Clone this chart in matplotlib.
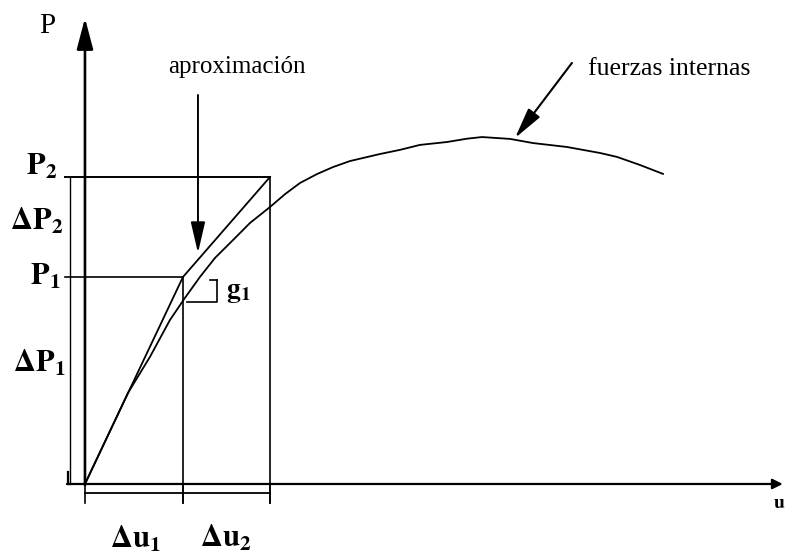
import matplotlib
matplotlib.use("Agg")
import matplotlib.pyplot as plt

plt.rcParams['mathtext.fontset'] = 'stix'
plt.rcParams['font.family'] = ['Liberation Serif', 'DejaVu Serif']

# ---- data (arbitrary units: u displacement, P load) ----
u_curve = [0, 0.439, 0.663, 0.867, 1.020, 1.173, 1.327, 1.531, 1.684, 1.888, 2.041,
           2.194, 2.367, 2.531, 2.704, 3.010, 3.214, 3.418, 3.694, 3.898, 4.051,
           4.337, 4.571, 4.918, 5.255, 5.429, 5.663, 5.898]
P_curve = [0, 0.440, 0.614, 0.792, 0.899, 1.000, 1.092, 1.188, 1.261, 1.338, 1.400,
           1.454, 1.497, 1.531, 1.560, 1.594, 1.614, 1.638, 1.652, 1.668, 1.676,
           1.667, 1.647, 1.628, 1.599, 1.580, 1.541, 1.498]
u_approx = [0, 1.0, 1.888]
P_approx = [0, 1.0, 1.483]
u1, u2 = 1.0, 1.888
P1, P2 = 1.0, 1.483
g1_top, g1_bot = 0.985, 0.880

fig = plt.figure(figsize=(7.85, 5.57), dpi=100)
ax = fig.add_axes([0, 0, 1, 1])
ax.set_xlim(-0.867, 7.143)
ax.set_ylim(-0.3527, 2.338)
ax.axis('off')

k = 'black'
# axes with arrows
ax.annotate('', xy=(0, 2.251), xytext=(0, -0.005),
            arrowprops=dict(arrowstyle='-|>,head_length=0.95,head_width=0.25',
                            mutation_scale=20, lw=1.9, color=k, shrinkA=0, shrinkB=0))
ax.annotate('', xy=(7.12, 0), xytext=(-0.184, 0),
            arrowprops=dict(arrowstyle='-|>,head_length=0.6,head_width=0.3',
                            mutation_scale=10, lw=1.6, color=k, shrinkA=0, shrinkB=0))

# grid lines of the scheme
ax.plot([-0.204, u2], [P2, P2], color=k, lw=1.4)
ax.plot([-0.204, u1], [P1, P1], color=k, lw=1.2)
ax.plot([u2, u2], [P2, -0.092], color=k, lw=1.2)
ax.plot([u1, u1], [P1, -0.092], color=k, lw=1.2)

# dimension lines
ax.plot([-0.153, -0.153], [0, P2], color=k, lw=1.0)
ax.plot([-0.175, -0.175], [0, 0.06], color=k, lw=1.6)
ax.plot([0, u2], [-0.0435, -0.0435], color=k, lw=1.3)
for uu in [0, u1, u2]:
    ax.plot([uu, uu], [0, -0.092], color=k, lw=1.2)

# curves
ax.plot(u_curve, P_curve, color=k, lw=1.3, solid_joinstyle='round')
ax.plot(u_approx, P_approx, color=k, lw=1.3)

# g1 bracket
ax.plot([1.041, 1.347, 1.347], [g1_bot, g1_bot, g1_top], color=k, lw=1.2)
ax.plot([1.276, 1.347], [g1_top, g1_top], color=k, lw=1.2)

# annotations with arrows
ax.text(0.847, 1.986, 'aproximación', fontsize=18, ha='left', va='baseline')
ax.annotate('', xy=(1.153, 1.116), xytext=(1.153, 1.879),
            arrowprops=dict(arrowstyle='-|>,head_length=0.95,head_width=0.22',
                            mutation_scale=20, lw=1.4, color=k, shrinkA=0, shrinkB=0))
ax.text(5.133, 1.976, 'fuerzas internas', fontsize=18.5, ha='left', va='baseline')
ax.annotate('', xy=(4.388, 1.671), xytext=(4.969, 2.034),
            arrowprops=dict(arrowstyle='-|>,head_length=0.95,head_width=0.22',
                            mutation_scale=20, lw=1.5, color=k, shrinkA=0, shrinkB=0))

# labels
lab = dict(fontsize=22, ha='left', va='baseline')
ax.text(-0.469, 2.179, 'P', fontsize=21, ha='left', va='baseline')
ax.text(-0.602, P2 + 0.01, r'$\mathbf{P}_{\mathbf{2}}$', **lab)
ax.text(-0.765, 1.227, r'$\mathbf{\Delta P}_{\mathbf{2}}$', **lab)
ax.text(-0.561, P1 - 0.04, r'$\mathbf{P}_{\mathbf{1}}$', **lab)
ax.text(-0.735, 0.541, r'$\mathbf{\Delta P}_{\mathbf{1}}$', **lab)
ax.text(0.255, -0.309, r'$\mathbf{\Delta u}_{\mathbf{1}}$', **lab)
ax.text(1.173, -0.304, r'$\mathbf{\Delta u}_{\mathbf{2}}$', **lab)
ax.text(1.439, 0.903, r'$\mathbf{g}_{\mathbf{1}}$', fontsize=20, ha='left', va='baseline')
ax.text(7.02, -0.116, r'$\mathbf{u}$', fontsize=14, ha='left', va='baseline')

fig.savefig('out.png', dpi=100)
